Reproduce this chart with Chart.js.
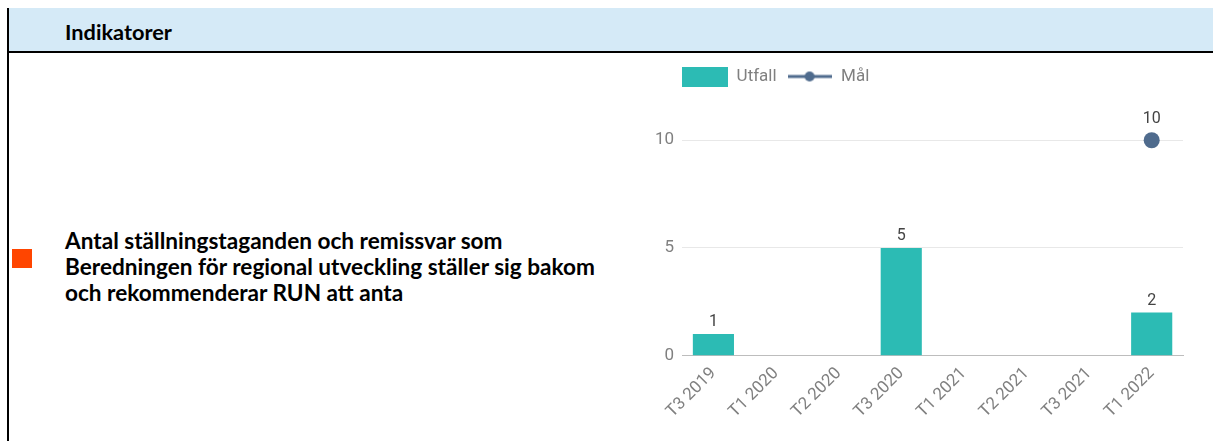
<!DOCTYPE html>
<html><head><meta charset="utf-8">
<script src="https://cdn.jsdelivr.net/npm/chart.js@4.4.1/dist/chart.umd.min.js"></script>
<style>
html,body{margin:0;padding:0;background:#fff;width:1213px;height:441px;overflow:hidden;position:relative;font-family:Lato,sans-serif;}
#hdr{position:absolute;left:9px;top:8px;width:1204px;height:43px;background:#d5eaf7;border-bottom:2px solid #000;}
#hdrText{position:absolute;left:65px;top:33px;transform:translateY(-50%);font-weight:700;color:#000;white-space:nowrap;line-height:1;}
#vline{position:absolute;left:7px;top:8px;width:2px;height:433px;background:#000;}
#sq{position:absolute;left:12px;top:249px;width:20px;height:19px;background:#ff4500;}
#txt{position:absolute;left:65px;top:228px;line-height:26px;font-weight:700;color:#000;white-space:nowrap;}
#wrap{position:absolute;left:637px;top:58px;width:556px;height:383px;}
</style></head>
<body>
<div id="hdr"></div>
<div id="vline"></div>
<div id="hdrText">Indikatorer</div>
<div id="sq"></div>
<div id="txt"><div id="l1">Antal ställningstaganden och remissvar som</div><div id="l2">Beredningen för regional utveckling ställer sig bakom</div><div id="l3">och rekommenderar RUN att anta</div></div>
<div id="wrap"><canvas id="c"></canvas></div>
<script>
const categories = ['T3 2019','T1 2020','T2 2020','T3 2020','T1 2021','T2 2021','T3 2021','T1 2022'];
const utfall = [1, null, null, 5, null, null, null, 2];
const mal = [null, null, null, null, null, null, null, 10];
const yTickValues = [0, 5, 10];
const seriesNames = ['Utfall', 'Mål'];

const TEAL = '#2cbbb4';
const SLATE = '#4f6b8d';

// fit text widths (layout only)
function fitFont(el, target){
  const m = document.createElement('canvas').getContext('2d');
  m.font = '700 100px Lato';
  const w = m.measureText(el.textContent).width;
  return 100 * target / w;
}
document.getElementById('hdrText').style.fontSize = fitFont(document.getElementById('hdrText'), 107).toFixed(2) + 'px';
document.getElementById('txt').style.fontSize = fitFont(document.getElementById('l2'), 531).toFixed(2) + 'px';

function boxImg(){
  const c = document.createElement('canvas'); c.width = 46; c.height = 20;
  const x = c.getContext('2d'); x.fillStyle = TEAL; x.fillRect(0,0,46,20); return c;
}
function lineImg(){
  const c = document.createElement('canvas'); c.width = 44; c.height = 12;
  const x = c.getContext('2d'); x.strokeStyle = SLATE; x.lineWidth = 3;
  x.beginPath(); x.moveTo(0,6); x.lineTo(44,6); x.stroke();
  x.fillStyle = SLATE; x.beginPath(); x.arc(22,6,5,0,Math.PI*2); x.fill(); return c;
}

const valueLabels = {
  id: 'valueLabels',
  afterDatasetsDraw(chart){
    const ctx = chart.ctx;
    chart.data.datasets.forEach((ds, i) => {
      const meta = chart.getDatasetMeta(i);
      meta.data.forEach((el, j) => {
        const v = ds.data[j];
        if (v === null || v === undefined) return;
        const off = meta.type === 'line' ? 13 : 4;
        ctx.save();
        ctx.font = '16px Roboto';
        ctx.fillStyle = '#444';
        ctx.textAlign = 'center';
        ctx.textBaseline = 'bottom';
        ctx.fillText(String(v), el.x, el.y - off);
        ctx.restore();
      });
    });
  }
};
const legendShift = {
  id: 'legendShift',
  afterLayout(chart){
    const lg = chart.legend;
    if (lg) lg.left = chart.chartArea.left - lg.options.labels.padding;
  }
};

Chart.defaults.font.family = 'Roboto';
new Chart(document.getElementById('c'), {
  data: {
    labels: categories,
    datasets: [
      { type: 'bar', label: seriesNames[0], data: utfall, backgroundColor: TEAL, borderWidth: 0,
        barPercentage: 0.9, categoryPercentage: 0.73 },
      { type: 'line', label: seriesNames[1], data: mal, borderColor: SLATE, backgroundColor: SLATE,
        borderWidth: 3, pointRadius: 8, pointBackgroundColor: SLATE, pointBorderColor: SLATE, pointBorderWidth: 0 }
    ]
  },
  options: {
    responsive: true, maintainAspectRatio: false, animation: false,
    layout: { padding: { left: 10, right: 10, top: 0, bottom: 11 } },
    plugins: {
      tooltip: { enabled: false },
      legend: {
        position: 'top', align: 'start',
        labels: {
          usePointStyle: true, pointStyleWidth: 46, boxHeight: 17, padding: 10,
          color: '#808080', font: { size: 17 },
          generateLabels(chart){
            const items = Chart.defaults.plugins.legend.labels.generateLabels(chart);
            items[0].pointStyle = boxImg();
            items[1].pointStyle = lineImg();
            return items;
          }
        }
      }
    },
    scales: {
      x: {
        grid: { display: true, color: 'rgba(0,0,0,0)', drawTicks: false },
        border: { display: true, color: '#bdbdbd', width: 1 },
        ticks: { minRotation: 45, maxRotation: 45, autoSkip: false, color: '#808080', font: { size: 17 }, padding: 8 }
      },
      y: {
        min: 0, max: 12.1,
        afterBuildTicks(s){ s.ticks = yTickValues.map(v => ({ value: v })); },
        grid: { color: '#e8e8e8', drawTicks: false },
        border: { display: false },
        ticks: { color: '#808080', font: { size: 17 }, padding: 8 }
      }
    }
  },
  plugins: [valueLabels, legendShift]
});
</script>
</body></html>
